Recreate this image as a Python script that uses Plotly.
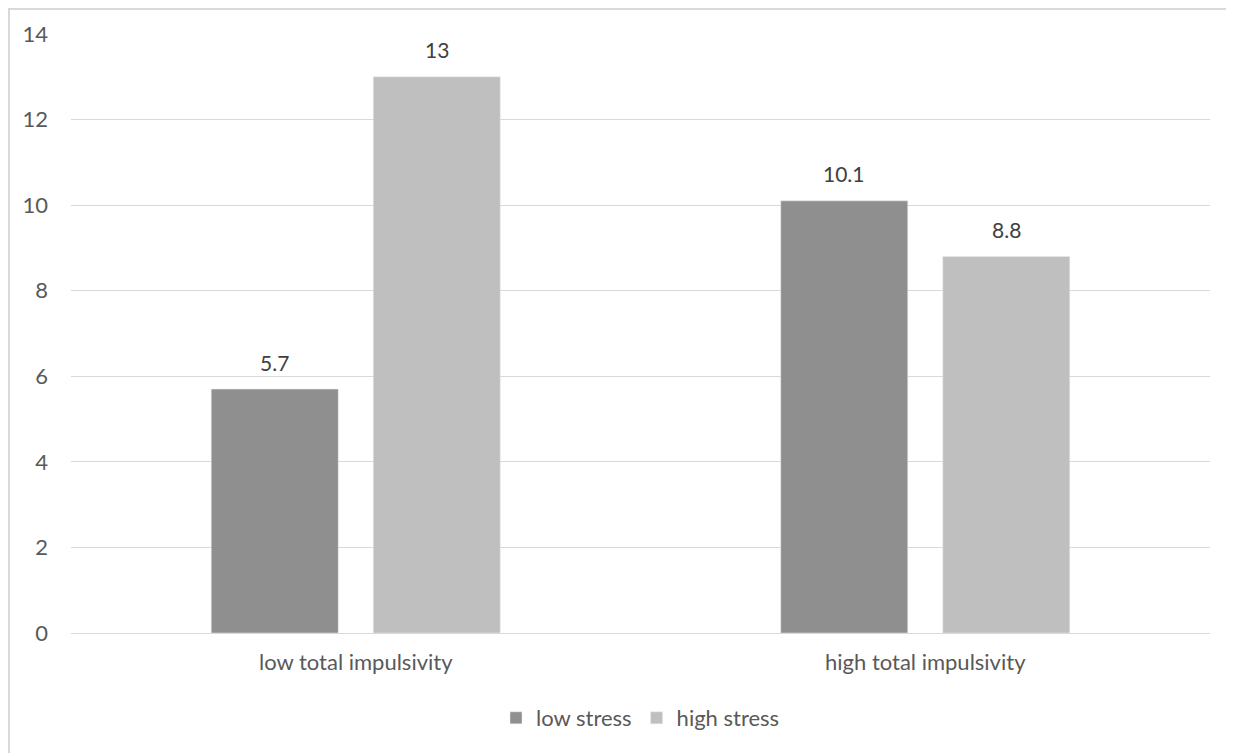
import plotly.graph_objects as go

categories = ["low total impulsivity", "high total impulsivity"]
low_stress = [5.7, 10.1]
high_stress = [13, 8.8]
series_names = ["low stress", "high stress"]
tick_vals = [0, 2, 4, 6, 8, 10, 12, 14]

# page body has an 8px margin; the figure is sized to fit in the 1234x753 window
W, H = 1226, 745
ml, mr, mt, mb = 63, 24, 26, 120
pw, ph = W - ml - mr, H - mt - mb

font_family = "Lato, 'Open Sans', sans-serif"
txt = "#595959"
fs = 22

fig = go.Figure()
fig.add_trace(go.Bar(name=series_names[0], x=categories, y=low_stress, marker_color="#8f8f8f"))
fig.add_trace(go.Bar(name=series_names[1], x=categories, y=high_stress, marker_color="#bfbfbf"))

# data labels above each bar
slot_half = 81
for vals, xs in ((low_stress, -slot_half), (high_stress, slot_half)):
    for c, v in zip(categories, vals):
        fig.add_annotation(x=c, y=v, xref="x", yref="y", text=str(v), showarrow=False,
                           xshift=xs, yshift=27, yanchor="middle",
                           font=dict(size=fs - 1, color="#404040", family=font_family))

# outer chart border
fig.add_shape(type="rect", xref="paper", yref="paper",
              x0=-(ml - 1) / pw, x1=1 + (mr + 20) / pw, y0=-(mb + 20) / ph, y1=1 + (mt - 1) / ph,
              line=dict(color="#d9d9d9", width=2), fillcolor="rgba(0,0,0,0)", layer="below")

fig.update_layout(
    width=W, height=H,
    margin=dict(l=ml, r=mr, t=mt, b=mb, autoexpand=False),
    paper_bgcolor="white", plot_bgcolor="white",
    barmode="group", bargap=0.431, bargroupgap=0.216,
    font=dict(family=font_family, color=txt, size=fs),
    showlegend=True,
    legend=dict(orientation="h", x=0.5, xanchor="center", y=-(718 - 633) / ph, yanchor="middle",
                font=dict(size=fs, color=txt), traceorder="normal"),
    yaxis=dict(range=[0, 14], tickvals=tick_vals, showgrid=True, gridcolor="#d9d9d9", gridwidth=1,
               zeroline=False, showline=False, ticks="", ticklabelstandoff=22,
               tickfont=dict(size=fs, color=txt)),
    xaxis=dict(showline=True, linecolor="#d9d9d9", linewidth=1, ticks="",
               tickfont=dict(size=fs, color=txt), ticklabelstandoff=10),
)

fig.write_html("out.html")
